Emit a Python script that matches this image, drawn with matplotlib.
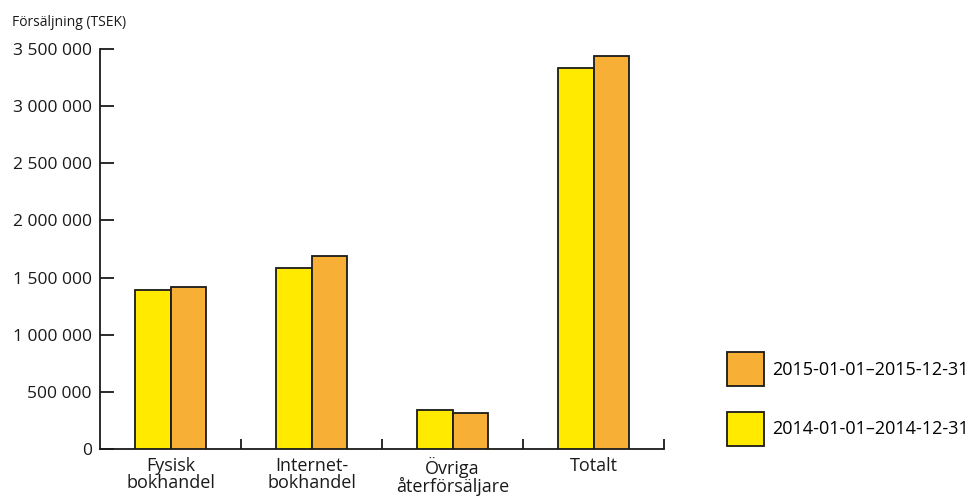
import matplotlib
matplotlib.use("Agg")
import matplotlib.pyplot as plt
from matplotlib.patches import Patch
from matplotlib.ticker import FuncFormatter, FixedLocator

categories = ["Fysisk\nbokhandel", "Internet-\nbokhandel", "Övriga\nåterförsäljare", "Totalt"]
sales_2014 = [1390000, 1581000, 341000, 3331000]
sales_2015 = [1420000, 1689000, 318000, 3441000]
label_2014 = "2014-01-01–2014-12-31"
label_2015 = "2015-01-01–2015-12-31"
y_ticks = [0, 500000, 1000000, 1500000, 2000000, 2500000, 3000000, 3500000]

plt.rcParams['font.family'] = ['Open Sans', 'DejaVu Sans']

fig = plt.figure(figsize=(9.72, 4.97), dpi=100)
ax = fig.add_axes([100/972, 48/497, 564/972, 400/497])

yellow = "#FFEA00"
orange = "#F7B035"
edge = "#1a1a1a"
w = 0.25
x = list(range(len(categories)))
ax.bar([i - w/2 for i in x], sales_2014, width=w, color=yellow, edgecolor=edge, linewidth=1.3, zorder=3)
ax.bar([i + w/2 for i in x], sales_2015, width=w, color=orange, edgecolor=edge, linewidth=1.3, zorder=3)

ax.set_xlim(-0.5, 3.5)
ax.set_ylim(0, 3500000)
for s in ["top", "right"]:
    ax.spines[s].set_visible(False)
for s in ["left", "bottom"]:
    ax.spines[s].set_linewidth(1.3)
    ax.spines[s].set_color(edge)

ax.set_yticks(y_ticks)
ax.yaxis.set_major_formatter(FuncFormatter(lambda v, p: f"{int(v):,}".replace(",", " ")))
ax.tick_params(axis="y", direction="in", length=10, width=1.3, color=edge, labelsize=12.5, pad=6, labelcolor="#1a1a1a")

ax.set_xticks(x)
ax.set_xticklabels(categories)
ax.tick_params(axis="x", which="major", length=0, labelsize=13, pad=6, labelcolor="#1a1a1a")
ax.xaxis.set_minor_locator(FixedLocator([0.5, 1.5, 2.5, 3.5]))
ax.tick_params(axis="x", which="minor", direction="in", length=7, width=1.3, color=edge)
for lbl in ax.get_xticklabels():
    lbl.set_linespacing(0.9)

fig.text(12/972, 1 - 22/497, "Försäljning (TSEK)", fontsize=10, va="center", ha="left", color="#1a1a1a")

handles = [Patch(facecolor=orange, edgecolor=edge, linewidth=1.3),
           Patch(facecolor=yellow, edgecolor=edge, linewidth=1.3)]
fig.legend(handles, [label_2015, label_2014], loc="upper left",
           bbox_to_anchor=(722/972, 1 - 347/497), frameon=False, fontsize=13,
           handlelength=2.0, handleheight=2.5, labelspacing=1.42, handletextpad=0.45,
           borderaxespad=0, borderpad=0.3)

fig.savefig("out.png", dpi=100)
